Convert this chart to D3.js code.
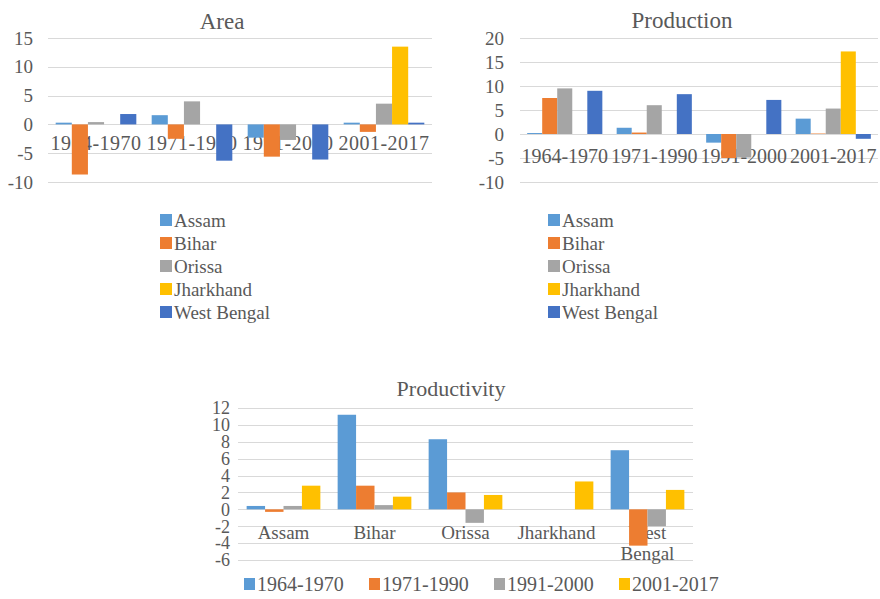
<!DOCTYPE html>
<html><head><meta charset="utf-8">
<script src="https://cdn.jsdelivr.net/npm/d3@7"></script>
<style>
html,body{margin:0;padding:0;background:#fff;}
svg{display:block;}
svg text{font-family:"Liberation Serif",serif;}
</style></head>
<body>
<svg id="chart" width="880" height="599"></svg>
<script>
// ---- data ----
const periods = ["1964-1970","1971-1990","1991-2000","2001-2017"];
const states = ["Assam","Bihar","Orissa","Jharkhand","West Bengal"];
const stateColors = ["#5B9BD5","#ED7D31","#A5A5A5","#FFC000","#4472C4"];
const periodColors = ["#5B9BD5","#ED7D31","#A5A5A5","#FFC000"];

// Area: values per period, in state order
const areaAssam     = [0.3, 1.6, -2.3, 0.3];
const areaBihar     = [-8.7, -2.5, -5.6, -1.3];
const areaOrissa    = [0.4, 4.0, -2.7, 3.6];
const areaJharkhand = [0, 0, 0, 13.5];
const areaWB        = [1.8, -6.3, -6.1, 0.3];
const areaTicks = [-10,-5,0,5,10,15];

// Production
const prodAssam     = [0.2, 1.3, -1.8, 3.2];
const prodBihar     = [7.5, 0.3, -5.0, 0.1];
const prodOrissa    = [9.5, 6.0, -4.9, 5.3];
const prodJharkhand = [0, 0, 0, 17.2];
const prodWB        = [9.0, 8.3, 7.1, -1.0];
const prodTicks = [-10,-5,0,5,10,15,20];

// Productivity: values per state, in period order
const pty1964 = [0.4, 11.2, 8.3, 0, 7.0];
const pty1971 = [-0.3, 2.8, 2.0, 0, -4.3];
const pty1991 = [0.4, 0.5, -1.6, 0, -2.0];
const pty2001 = [2.8, 1.5, 1.7, 3.3, 2.3];
const ptyTicks = [-6,-4,-2,0,2,4,6,8,10,12];

const svg = d3.select("#chart");
const GRID = "#D9D9D9";
const TXT = "#595959";
const FONT = "'Liberation Serif', serif";

function barChart(opt){
  const g = svg.append("g");
  const y = d3.scaleLinear().domain(opt.domain).range([opt.bottom, opt.top]);
  const x0 = d3.scaleBand().domain(opt.cats).range([opt.left, opt.right])
    .paddingInner(opt.pad).paddingOuter(opt.pad/2);
  const x1 = d3.scaleBand().domain(d3.range(opt.series.length)).range([0, x0.bandwidth()]);
  g.selectAll("line.grid").data(opt.ticks).join("line")
    .attr("x1", opt.left).attr("x2", opt.right)
    .attr("y1", d=>Math.round(y(d))+0.5).attr("y2", d=>Math.round(y(d))+0.5)
    .attr("stroke", GRID).attr("stroke-width", 1);
  g.selectAll("text.tick").data(opt.ticks).join("text")
    .attr("x", opt.tickX).attr("y", d=>y(d)).attr("dy","0.35em")
    .attr("text-anchor","end").attr("fill",TXT)
    .style("font-family",FONT).style("font-size", opt.tickSize+"px").text(d=>d);
  const lab = g.selectAll("text.cat").data(opt.cats).join("text")
    .attr("x", d=>x0(d)+x0.bandwidth()/2).attr("y", opt.catY)
    .attr("text-anchor","middle").attr("fill",TXT)
    .style("font-family",FONT).style("font-size", opt.catSize+"px")
    .style("letter-spacing", (opt.catSpacing||0)+"px");
  lab.each(function(d){
    const parts = opt.wrap && opt.wrap[d] ? opt.wrap[d] : [d];
    d3.select(this).selectAll("tspan").data(parts).join("tspan")
      .attr("x", x0(d)+x0.bandwidth()/2).attr("dy",(p,i)=>i===0?0:opt.catLine).text(p=>p);
  });
  opt.series.forEach((vals, si)=>{
    g.append("g").selectAll("rect").data(vals).join("rect")
      .attr("x",(v,ci)=>x0(opt.cats[ci])+x1(si))
      .attr("width", x1.bandwidth())
      .attr("y", v=>y(Math.max(0,v)))
      .attr("height", v=>Math.abs(y(v)-y(0)))
      .attr("fill", opt.colors[si]);
  });
  g.append("text").attr("x", opt.titleX).attr("y", opt.titleY)
    .attr("text-anchor","middle").attr("fill",TXT)
    .style("font-family",FONT).style("font-size", opt.titleSize+"px").text(opt.title);
  return {x0,y};
}

barChart({title:"Area", titleX:222, titleY:29, titleSize:23,
  cats:periods, series:[areaAssam,areaBihar,areaOrissa,areaJharkhand,areaWB], colors:stateColors,
  domain:[-10,15], ticks:areaTicks, left:48, right:432, top:38, bottom:182, pad:0.16,
  tickX:33, tickSize:19, catY:150, catSize:20, catSpacing:0.5});

barChart({title:"Production", titleX:682, titleY:28, titleSize:23,
  cats:periods, series:[prodAssam,prodBihar,prodOrissa,prodJharkhand,prodWB], colors:stateColors,
  domain:[-10,20], ticks:prodTicks, left:520, right:878, top:38, bottom:182, pad:0.16,
  tickX:504, tickSize:19, catY:163, catSize:20, catSpacing:0});

barChart({title:"Productivity", titleX:451, titleY:396, titleSize:22,
  cats:states, series:[pty1964,pty1971,pty1991,pty2001], colors:periodColors,
  domain:[-6,12], ticks:ptyTicks, left:238, right:693, top:408, bottom:560, pad:0.19,
  tickX:230, tickSize:18, catY:539, catSize:19, catLine:21,
  wrap:{"West Bengal":["West","Bengal"]}});

function vLegend(x, y0, names, colors){
  const g = svg.append("g");
  const it = g.selectAll("g").data(names).join("g")
    .attr("transform",(d,i)=>`translate(${x},${y0+i*23})`);
  it.append("rect").attr("x",0).attr("y",-6).attr("width",12).attr("height",12)
    .attr("fill",(d,i)=>colors[i]);
  it.append("text").attr("x",14).attr("y",0).attr("dy","0.35em").attr("fill",TXT)
    .style("font-family",FONT).style("font-size","19px").text(d=>d);
}
vLegend(160, 220, states, stateColors);
vLegend(548, 220, states, stateColors);

const hl = svg.append("g").selectAll("g").data(periods).join("g")
  .attr("transform",(d,i)=>`translate(${244+i*125},584)`);
hl.append("rect").attr("x",0).attr("y",-6).attr("width",11).attr("height",12)
  .attr("fill",(d,i)=>periodColors[i]);
hl.append("text").attr("x",13).attr("y",0).attr("dy","0.35em").attr("fill",TXT)
  .style("font-family",FONT).style("font-size","20px").text(d=>d);
</script>
</body></html>
